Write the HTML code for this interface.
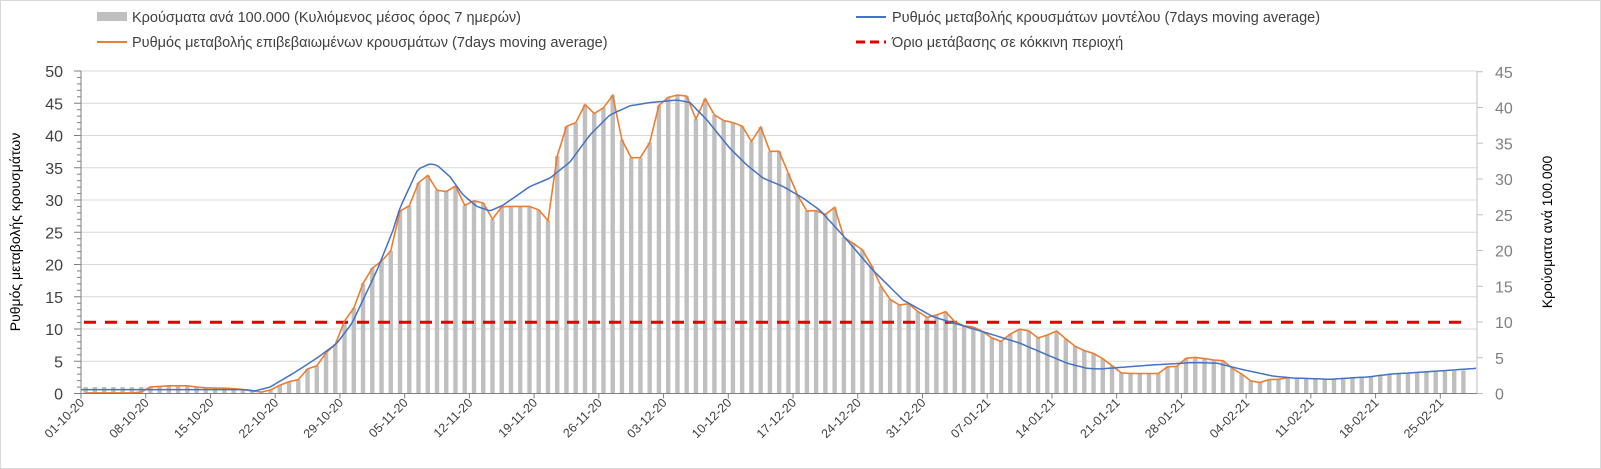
<!DOCTYPE html>
<html><head><meta charset="utf-8">
<style>
html,body{margin:0;padding:0;background:#fff;}
svg{display:block;font-family:"Liberation Sans",Arial,sans-serif;}
</style></head>
<body>
<svg id="c" width="1601" height="469" viewBox="0 0 1601 469" xmlns="http://www.w3.org/2000/svg">
<rect x="0.5" y="0.5" width="1600" height="468" fill="#fff" stroke="#d9d9d9"/>
<g id="grid"></g>
<g id="bars"></g>
<g id="lines"></g>
<g id="axes"></g>
<rect x="97" y="12" width="30" height="9" fill="#bfbfbf"/>
<text x="132" y="22" font-size="14.5" fill="#404040">Κρούσματα ανά 100.000 (Κυλιόμενος μέσος όρος 7 ημερών)</text>
<line x1="97" y1="42" x2="127" y2="42" stroke="#ed7d31" stroke-width="2"/>
<text x="132" y="47" font-size="14.5" fill="#404040">Ρυθμός μεταβολής επιβεβαιωμένων κρουσμάτων (7days moving average)</text>
<line x1="856" y1="17" x2="886" y2="17" stroke="#4472c4" stroke-width="2"/>
<text x="892" y="22" font-size="14.5" fill="#404040">Ρυθμός μεταβολής κρουσμάτων μοντέλου (7days moving average)</text>
<line x1="856" y1="42" x2="886" y2="42" stroke="#e00000" stroke-width="3" stroke-dasharray="9,5"/>
<text x="892" y="47" font-size="14.5" fill="#404040">Όριο μετάβασης σε κόκκινη περιοχή</text>
<text transform="translate(20,232) rotate(-90)" text-anchor="middle" font-size="14" fill="#000">Ρυθμός μεταβολής κρουσμάτων</text>
<text transform="translate(1552,232) rotate(-90)" text-anchor="middle" font-size="14" fill="#000">Κρούσματα ανά 100.000</text>
</svg>
<script>
var NS="http://www.w3.org/2000/svg";
function el(p,t,a,txt){var e=document.createElementNS(NS,t);for(var k in a)e.setAttribute(k,a[k]);if(txt!==undefined)e.textContent=txt;document.getElementById(p).appendChild(e);return e;}
var X0=81,DX=9.247,Y0=393.5,SY=6.45,XR=1477;
function yv(v){return Y0-v*SY;}
function interp(pts,x){if(x<=pts[0][0])return pts[0][1];for(var i=1;i<pts.length;i++){if(x<=pts[i][0]){var a=pts[i-1],b=pts[i];return a[1]+(b[1]-a[1])*(x-a[0])/(b[0]-a[0]);}}return pts[pts.length-1][1];}
var org=[[85,0.1],[140,0.1],[148,1.0],[160,1.1],[170,1.2],[180,1.2],[190,1.2],[200,0.9],[230,0.8],[250,0.5],[257,0.1],[270,0.5],[280,1.3],[288,1.8],[298,2.1],[308,3.9],[317,4.3],[327,6.5],[335,7.5],[345,11.4],[353,12.9],[362,16.8],[372,19.4],[380,20.3],[390,21.6],[400,28.3],[408,28.6],[418,32.6],[427,34],[437,31.5],[446,31.3],[456,32.2],[465,29.1],[473,29.9],[483,29.6],[493,26.9],[502,29],[510,29],[530,29],[538,28.6],[548,26.8],[557,36.7],[567,41.7],[576,42],[585,44.8],[594,43.4],[603,44.2],[613,46.3],[622,39.3],[632,36.3],[641,36.6],[650,39],[659,44.7],[668,45.9],[678,46.3],[687,46.1],[696,42.5],[706,46],[715,43],[724,42.3],[733,42],[743,41.4],[752,38.9],[761,41.4],[770,37.5],[779,37.6],[789,33.9],[798,30.6],[808,28],[817,28.4],[825,27.7],[834,29.2],[843,24.3],[853,23.3],[863,22.2],[872,19.7],[881,16.6],[890,14.6],[899,13.7],[908,14],[918,12.7],[927,11.8],[937,12.2],[946,12.7],[955,11.1],[964,10.5],[974,10.3],[983,9.6],[992,8.6],[1002,8.0],[1011,9.3],[1020,10],[1029,9.7],[1038,8.6],[1048,9.1],[1057,9.7],[1067,8.3],[1076,7.2],[1085,6.6],[1094,6.2],[1100,5.7],[1113,4.2],[1122,3.1],[1160,3.1],[1168,4.2],[1177,4.2],[1187,5.6],[1197,5.6],[1213,5.2],[1223,5.1],[1233,3.8],[1243,2.9],[1252,1.8],[1260,1.7],[1270,2.2],[1280,2.2],[1290,2.5]];
var blu=[[81,0.6],[245,0.6],[255,0.4],[270,1.0],[293,3.1],[317,5.5],[337,7.8],[352,10.9],[363,14.5],[377,19.1],[393,25.3],[400,28.8],[418,34.8],[430,35.6],[437,35.4],[450,33.6],[463,30.8],[477,29],[490,28.3],[503,29.2],[530,32.1],[550,33.4],[570,35.9],[590,40.1],[610,43.2],[630,44.6],[650,45.1],[677,45.5],[690,45.1],[707,42.4],[730,38],[747,35.4],[763,33.4],[783,32.1],[803,30.3],[820,28.4],[843,24.5],[873,19.1],[903,14.5],[933,11.9],[963,10.5],[993,9.1],[1020,7.8],[1047,6.0],[1067,4.7],[1087,3.9],[1100,3.8],[1150,4.4],[1193,4.8],[1217,4.7],[1240,3.8],[1273,2.7],[1293,2.4],[1313,2.3],[1330,2.2],[1350,2.4],[1370,2.6],[1390,3],[1410,3.2],[1440,3.5],[1476,3.9]];
var barTail=[[1290,2.4],[1300,2.4],[1330,2.3],[1370,2.7],[1410,3.2],[1466,3.6]];
for(var i=1;i<=10;i++){el("grid","line",{x1:X0,x2:XR,y1:yv(i*5),y2:yv(i*5),stroke:"#d9d9d9","stroke-width":1});}
for(var d=0;d<=149;d++){var x=X0+(d+0.5)*DX,v;
 if(x<142)v=1.0;else if(x<=1290)v=interp(org,x);else v=interp(barTail,x);
 el("bars","rect",{x:x-2.2,y:yv(v),width:4.4,height:v*SY,fill:"#bfbfbf"});}
el("lines","line",{x1:X0+3,x2:1466,y1:322.3,y2:322.3,stroke:"#e00000","stroke-width":3,"stroke-dasharray":"12,9"});
var p=[];for(var d=0;d<=130;d++){var x=X0+(d+0.5)*DX;if(x>1291)break;p.push(x.toFixed(1)+","+yv(interp(org,x)).toFixed(1));}
el("lines","polyline",{points:p.join(" "),fill:"none",stroke:"#ed7d31","stroke-width":1.6});
p=[];for(var x=81;x<=1476;x+=3){p.push(x+","+yv(interp(blu,x)).toFixed(1));}
el("lines","polyline",{points:p.join(" "),fill:"none",stroke:"#4472c4","stroke-width":1.5});
el("axes","line",{x1:X0,x2:X0,y1:yv(50),y2:Y0,stroke:"#7f7f7f"});
el("axes","line",{x1:XR,x2:XR,y1:71,y2:Y0,stroke:"#bfbfbf"});
el("axes","line",{x1:X0,x2:XR,y1:Y0,y2:Y0,stroke:"#7f7f7f"});
for(var i=0;i<=50;i++){var y=yv(i);el("axes","line",{x1:i%5==0?X0-7:X0-4,x2:X0,y1:y,y2:y,stroke:"#7f7f7f"});}
for(var i=0;i<=10;i++){el("axes","text",{x:63,y:yv(i*5)+6,"text-anchor":"end","font-size":"16",fill:"#404040"},String(i*5));}
for(var i=0;i<=9;i++){var y=393.5-i*5*7.15;el("axes","line",{x1:XR,x2:XR+6,y1:y,y2:y,stroke:"#bfbfbf"});
 el("axes","text",{x:1495,y:y+6,"font-size":"16",fill:"#7f7f7f"},String(i*5));}
var labs=["01-10-20","08-10-20","15-10-20","22-10-20","29-10-20","05-11-20","12-11-20","19-11-20","26-11-20","03-12-20","10-12-20","17-12-20","24-12-20","31-12-20","07-01-21","14-01-21","21-01-21","28-01-21","04-02-21","11-02-21","18-02-21","25-02-21"];
for(var i=0;i<labs.length;i++){var x=X0+i*7*DX;el("axes","line",{x1:x,x2:x,y1:Y0,y2:Y0+5,stroke:"#7f7f7f"});
 el("axes","text",{transform:"translate("+(x+4)+","+(Y0+10)+") rotate(-45)","text-anchor":"end","font-size":"12.5",fill:"#404040"},labs[i]);}
</script>
</body></html>
